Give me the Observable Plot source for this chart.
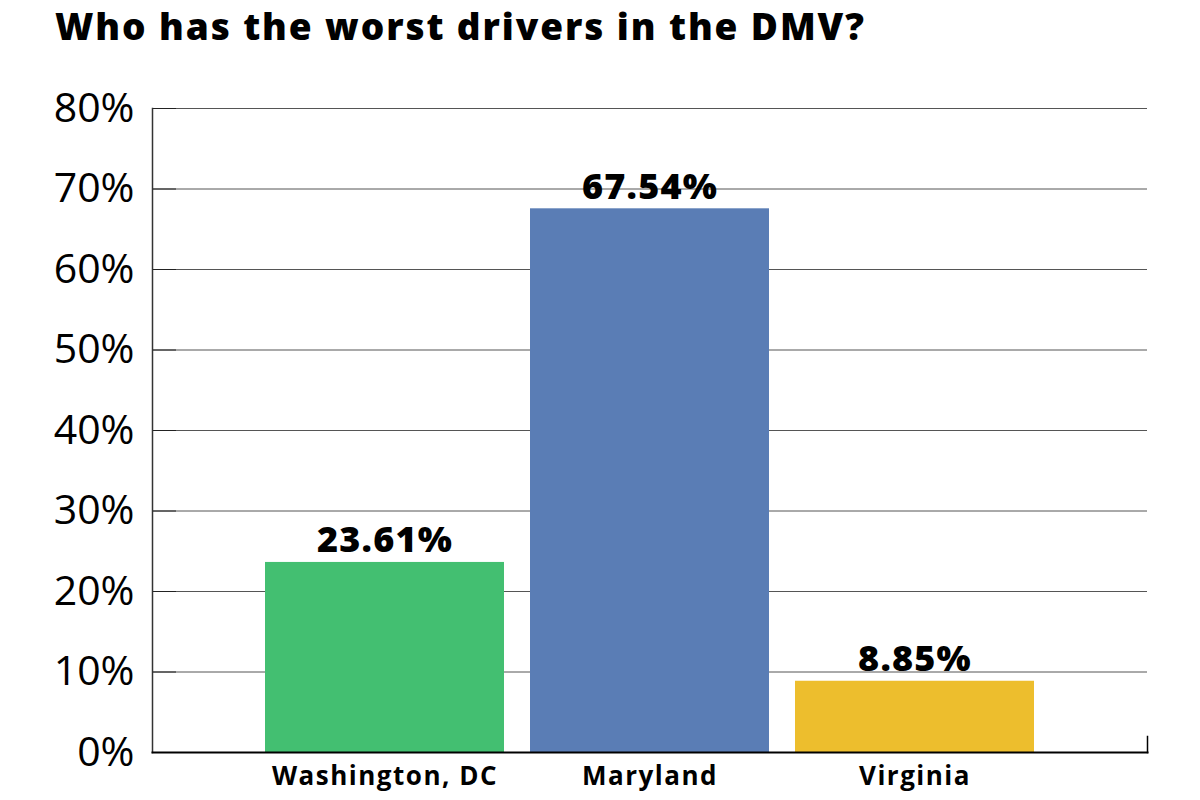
<!DOCTYPE html>
<html>
<head>
<meta charset="utf-8">
<script src="https://cdn.jsdelivr.net/npm/d3@7"></script>
<script src="https://cdn.jsdelivr.net/npm/@observablehq/plot@0.6"></script>
<style>
  html, body { margin: 0; padding: 0; background: #fff; }
  #wrap { position: relative; width: 1200px; height: 800px; }
  #title { position: absolute; left: 55px; top: 0px; font-family: 'Open Sans', sans-serif; font-weight: 800; font-size: 37px; color: #000; letter-spacing: 1.9px; white-space: nowrap; }
  #chart { position: absolute; left: 0; top: 0; }
  #chart g[aria-label="x-axis tick label"] { letter-spacing: 1.5px; }
  #chart g[aria-label="text"] { letter-spacing: 1.2px; }
</style>
</head>
<body>
<div id="wrap">
  <div id="chart"></div>
  <div id="title">Who has the worst drivers in the DMV?</div>
</div>
<script>
const categories = ["Washington, DC", "Maryland", "Virginia"];
const values = [23.61, 67.54, 8.85];
const colors = ["#43BF71", "#5A7DB5", "#EDBE2D"];
const yTicks = [0, 10, 20, 30, 40, 50, 60, 70, 80];

const data = categories.map((c, i) => ({ category: c, value: values[i], color: colors[i] }));

const chart = Plot.plot({
  width: 1200,
  height: 800,
  marginTop: 108,
  marginBottom: 48,
  marginLeft: 152,
  marginRight: 53,
  style: { background: "transparent", overflow: "visible" },
  x: { domain: categories, paddingInner: 0.1, paddingOuter: 0.424, label: null },
  y: { domain: [0, 80], label: null },
  marks: [
    Plot.ruleY(yTicks.slice(1), { stroke: "#555", strokeWidth: 1 }),
    Plot.axisY({ ticks: yTicks, tickFormat: d => d + "%", tickSize: 0, tickPadding: 18,
      fontSize: 41, fontFamily: "'Open Sans', sans-serif", fill: "#000", label: null }),
    Plot.axisY({ ticks: yTicks, tickFormat: () => "", tickSize: -24, stroke: "#222", label: null }),
    Plot.barY(data, { x: "category", y: "value", fill: "color" }),
    Plot.frame({ anchor: "left", stroke: "#333", strokeWidth: 1.5 }),
    Plot.frame({ anchor: "bottom", stroke: "#000", strokeWidth: 2 }),
    Plot.frame({ anchor: "right", stroke: "#000", strokeWidth: 1.5, insetTop: 628 }),
    Plot.axisX({ tickSize: 0, tickPadding: 14, fontSize: 26, fontWeight: 700,
      fontFamily: "'Open Sans', sans-serif", fill: "#000", label: null }),
    Plot.text(data, { x: "category", y: "value", text: d => d.value.toFixed(2) + "%",
      dy: -10, fontSize: 36, fontWeight: 800, fontFamily: "'Open Sans', sans-serif", fill: "#000",
      lineAnchor: "bottom" })
  ]
});
document.getElementById("chart").appendChild(chart);
</script>
</body>
</html>
